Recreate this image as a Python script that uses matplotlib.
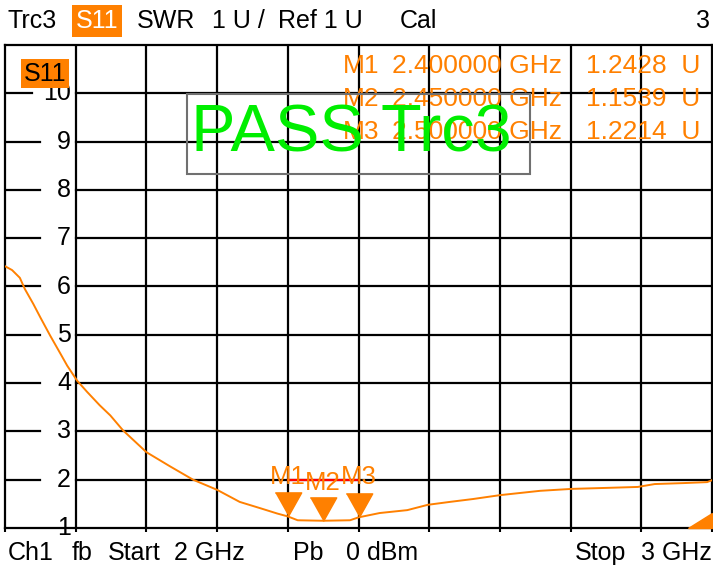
import matplotlib.pyplot as plt
from matplotlib.patches import Rectangle, Polygon

plt.rcParams['font.family'] = ['Liberation Sans', 'DejaVu Sans']

W, H = 713, 569
ORANGE = '#ff8000'
GREEN = '#00ee00'

# trace data (GHz, SWR)
freq_ghz = [2.000, 2.010, 2.021, 2.028, 2.040, 2.050, 2.064, 2.078, 2.088, 2.102,
            2.116, 2.134, 2.149, 2.167, 2.200, 2.233, 2.266, 2.300, 2.332, 2.361,
            2.385, 2.400, 2.414, 2.450, 2.488, 2.500, 2.530, 2.569, 2.598, 2.629,
            2.662, 2.700, 2.757, 2.802, 2.850, 2.895, 2.919, 2.960, 2.993, 3.000]
swr = [6.42, 6.34, 6.18, 5.95, 5.64, 5.36, 4.98, 4.62, 4.36, 4.05,
       3.82, 3.54, 3.33, 3.02, 2.57, 2.28, 2.00, 1.79, 1.54, 1.41,
       1.30, 1.24, 1.16, 1.15, 1.16, 1.22, 1.31, 1.37, 1.48, 1.54,
       1.60, 1.68, 1.77, 1.81, 1.83, 1.85, 1.91, 1.93, 1.95, 1.99]

marker_names = ['M1', 'M2', 'M3']
marker_freq = [2.40, 2.45, 2.50]
marker_swr = [1.2428, 1.1539, 1.2214]
marker_label_y = [2.06, 1.93, 2.06]
marker_freq_text = ['2.400000 GHz', '2.450000 GHz', '2.500000 GHz']
marker_swr_text = ['1.2428  U', '1.1539  U', '1.2214  U']

y_ticks = list(range(1, 11))
x_grid = [2.0 + 0.1 * i for i in range(11)]


def fx(px):
    return px / W


def fy(py):
    return 1 - py / H


def xd(px):
    # screen pixel -> frequency
    return 2.0 + (px - 5) / 707


fig = plt.figure(figsize=(W / 100, H / 100), dpi=100)
ax = fig.add_axes([fx(5), fy(528), (712 - 5) / W, (528 - 45) / H])
ax.set_xlim(2, 3)
ax.set_ylim(1, 11)
ax.set_xticks(x_grid)
ax.set_xticklabels([])
ax.set_yticks([])
ax.tick_params(axis='x', direction='out', length=3, width=1.5)
for s in ax.spines.values():
    s.set_linewidth(1.6)

# grid
for x in x_grid[1:-1]:
    ax.axvline(x, color='black', lw=1.6, zorder=1)
for v in y_ticks[1:]:
    left_end = 32 if v >= 10 else 40
    ax.plot([2.0, xd(left_end)], [v, v], color='black', lw=1.6, zorder=1)
    ax.plot([2.1, 3.0], [v, v], color='black', lw=1.6, zorder=1)
    ax.text(xd(71), v, str(v), ha='right', va='center', fontsize=18, zorder=3)
ax.text(xd(71), 1, '1', ha='right', va='center', fontsize=18, zorder=3)

# limit segment
ax.plot([marker_freq[0], marker_freq[-1]], [2, 2], color='red', lw=1.6, zorder=2)

# trace
ax.plot(freq_ghz, swr, color=ORANGE, lw=1.4, zorder=4)

# markers
tri = [(-0.56, 1.0), (0.56, 1.0), (0.0, 0.0)]
for name, f, v, ly in zip(marker_names, marker_freq, marker_swr, marker_label_y):
    ax.plot([f], [v], marker=tri, markersize=34, color=ORANGE, zorder=5)
    ax.text(f, ly, name, ha='center', va='center', fontsize=18.5, color=ORANGE, zorder=5)

# bottom-right indicator
ax.add_patch(Polygon([[xd(688), 1.0], [3.0, 1.0], [3.0, 1.31]], closed=True,
                     color=ORANGE, zorder=5, clip_on=False))

# trace label inside plot
fig.text(fx(45), fy(74), 'S11', ha='center', va='center', fontsize=18,
         bbox=dict(facecolor=ORANGE, edgecolor='none', boxstyle='square,pad=0.1'))

# marker list
for i in range(3):
    y = 66 + 33 * i
    fig.text(fx(343), fy(y), marker_names[i], ha='left', va='center', fontsize=19, color=ORANGE)
    fig.text(fx(562), fy(y), marker_freq_text[i], ha='right', va='center', fontsize=19, color=ORANGE)
    fig.text(fx(700), fy(y), marker_swr_text[i], ha='right', va='center', fontsize=19, color=ORANGE)

# pass/fail box
fig.patches.append(Rectangle((fx(187), fy(174)), (530 - 187) / W, (174 - 94) / H,
                             transform=fig.transFigure, fill=False,
                             edgecolor='#707070', lw=1.5, zorder=6))
fig.text(fx(351), fy(135), 'PASS Trc3', ha='center', va='center', fontsize=48,
         color=GREEN, zorder=7)

# header line
fig.text(fx(8), fy(21), 'Trc3', ha='left', va='center', fontsize=18)
fig.text(fx(97), fy(21), 'S11', ha='center', va='center', fontsize=18, color='white',
         bbox=dict(facecolor=ORANGE, edgecolor='none', boxstyle='square,pad=0.15'))
fig.text(fx(137), fy(21), 'SWR', ha='left', va='center', fontsize=18)
fig.text(fx(212), fy(21), '1 U /', ha='left', va='center', fontsize=18)
fig.text(fx(278), fy(21), 'Ref 1 U', ha='left', va='center', fontsize=18)
fig.text(fx(400), fy(21), 'Cal', ha='left', va='center', fontsize=18)
fig.text(fx(710), fy(21), '3', ha='right', va='center', fontsize=18)

# footer line
fig.text(fx(8), fy(553), 'Ch1', ha='left', va='center', fontsize=18)
fig.text(fx(72), fy(553), 'fb', ha='left', va='center', fontsize=18)
fig.text(fx(108), fy(553), 'Start', ha='left', va='center', fontsize=18)
fig.text(fx(245), fy(553), '2 GHz', ha='right', va='center', fontsize=18)
fig.text(fx(293), fy(553), 'Pb', ha='left', va='center', fontsize=18)
fig.text(fx(418), fy(553), '0 dBm', ha='right', va='center', fontsize=18)
fig.text(fx(575), fy(553), 'Stop', ha='left', va='center', fontsize=18)
fig.text(fx(712), fy(553), '3 GHz', ha='right', va='center', fontsize=18)

fig.savefig('out.png', dpi=100)
